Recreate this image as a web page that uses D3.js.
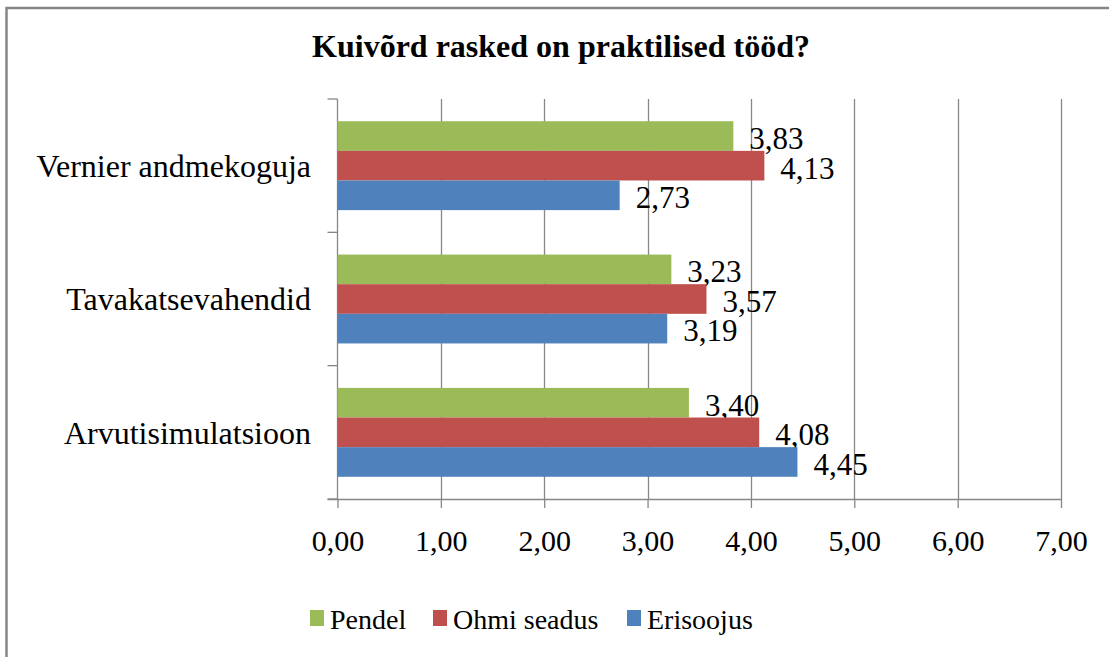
<!DOCTYPE html>
<html>
<head>
<meta charset="utf-8">
<script src="https://cdn.jsdelivr.net/npm/d3@7/dist/d3.min.js"></script>
<style>
  html, body { margin: 0; padding: 0; background: #fff; }
  svg { display: block; }
  text { font-family: "Liberation Serif", "Times New Roman", serif; fill: #000; }
</style>
</head>
<body>
<svg id="chart" width="1109" height="657"></svg>
<script>
const title = "Kuivõrd rasked on praktilised tööd?";
const categories = ["Vernier andmekoguja", "Tavakatsevahendid", "Arvutisimulatsioon"];
const seriesNames = ["Pendel", "Ohmi seadus", "Erisoojus"];
const seriesColors = ["#9BBB59", "#C0504D", "#4F81BD"];
const pendel = [3.83, 3.23, 3.40];
const ohmiSeadus = [4.13, 3.57, 4.08];
const erisoojus = [2.73, 3.19, 4.45];
const xTicks = [0, 1, 2, 3, 4, 5, 6, 7];

(function () {
const seriesValues = [pendel, ohmiSeadus, erisoojus];
const fmt = v => v.toFixed(2).replace(".", ",");
const serif = "'Liberation Serif', 'Times New Roman', serif";

const svg = d3.select("#chart");
const pLeft = 337.5, pRight = 1061, pTop = 99, pBottom = 499;
const gridColor = "#878787";

// outer border
svg.append("rect")
  .attr("x", 6.5).attr("y", 8).attr("width", 1120).attr("height", 700)
  .attr("fill", "none").attr("stroke", "#878787").attr("stroke-width", 2.5);

// title
svg.append("text")
  .attr("x", 561).attr("y", 57)
  .attr("text-anchor", "middle")
  .style("font-family", serif)
  .style("font-weight", "bold")
  .style("font-size", "32px")
  .text(title);

const x = d3.scaleLinear().domain([0, 7]).range([pLeft, pRight]);
const y0 = d3.scaleBand().domain(categories).range([pTop, pBottom]).paddingInner(0).paddingOuter(0);
const y1 = d3.scaleBand().domain(seriesNames).range([0, y0.bandwidth()]).paddingInner(0).paddingOuter(0.75);

// gridlines
svg.append("g").selectAll("line")
  .data(xTicks.slice(1))
  .join("line")
  .attr("x1", d => Math.round(x(d)) + 0.5).attr("x2", d => Math.round(x(d)) + 0.5)
  .attr("y1", pTop).attr("y2", pBottom)
  .attr("stroke", gridColor).attr("stroke-width", 1.3);

// x axis
const xAxis = d3.axisBottom(x).tickValues(xTicks).tickFormat(fmt).tickSize(9).tickPadding(22);
const gx = svg.append("g").attr("transform", `translate(0,${pBottom})`).call(xAxis);
gx.select(".domain").remove();
gx.selectAll(".tick line").attr("stroke", gridColor).attr("stroke-width", 1.3);
gx.selectAll(".tick text").style("font-size", "30px").style("font-family", serif).attr("fill", "#000");
svg.append("line").attr("x1", pLeft - 10).attr("x2", pRight).attr("y1", pBottom + 0.5).attr("y2", pBottom + 0.5)
  .attr("stroke", gridColor).attr("stroke-width", 1.3);

// y axis
const yBoundaries = [pTop].concat(categories.map(c => y0(c) + y0.bandwidth()));
svg.append("line").attr("x1", pLeft).attr("x2", pLeft).attr("y1", pTop).attr("y2", pBottom)
  .attr("stroke", gridColor).attr("stroke-width", 1.3);
svg.append("g").selectAll("line").data(yBoundaries).join("line")
  .attr("x1", pLeft - 10).attr("x2", pLeft).attr("y1", d => d).attr("y2", d => d)
  .attr("stroke", gridColor).attr("stroke-width", 1.3);
svg.append("g").selectAll("text").data(categories).join("text")
  .attr("x", 311).attr("y", d => y0(d) + y0.bandwidth() / 2)
  .attr("dy", "0.35em")
  .attr("text-anchor", "end")
  .style("font-family", serif)
  .style("font-size", "32px")
  .text(d => d);

// bars
const groups = svg.append("g").selectAll("g").data(categories).join("g")
  .attr("transform", d => `translate(0,${y0(d)})`);
groups.each(function(cat, ci) {
  const g = d3.select(this);
  seriesNames.forEach((s, si) => {
    const v = seriesValues[si][ci];
    g.append("rect")
      .attr("x", x(0)).attr("y", y1(s))
      .attr("width", x(v) - x(0)).attr("height", y1.bandwidth())
      .attr("fill", seriesColors[si]);
    g.append("text")
      .attr("x", x(v) + 16).attr("y", y1(s) + y1.bandwidth() / 2 + 2)
      .attr("dy", "0.35em")
      .style("font-family", serif)
      .style("font-size", "31px")
      .text(fmt(v));
  });
});

// legend
const legendItems = [
  { name: seriesNames[0], color: seriesColors[0], x: 310 },
  { name: seriesNames[1], color: seriesColors[1], x: 433 },
  { name: seriesNames[2], color: seriesColors[2], x: 627 }
];
const lg = svg.append("g").selectAll("g").data(legendItems).join("g")
  .attr("transform", d => `translate(${d.x},0)`);
lg.append("rect").attr("x", 0).attr("y", 610).attr("width", 14).attr("height", 16)
  .attr("fill", d => d.color);
lg.append("text").attr("x", 20).attr("y", 619).attr("dy", "0.35em")
  .style("font-family", serif)
  .style("font-size", "28px").text(d => d.name);
})();
</script>
</body>
</html>
